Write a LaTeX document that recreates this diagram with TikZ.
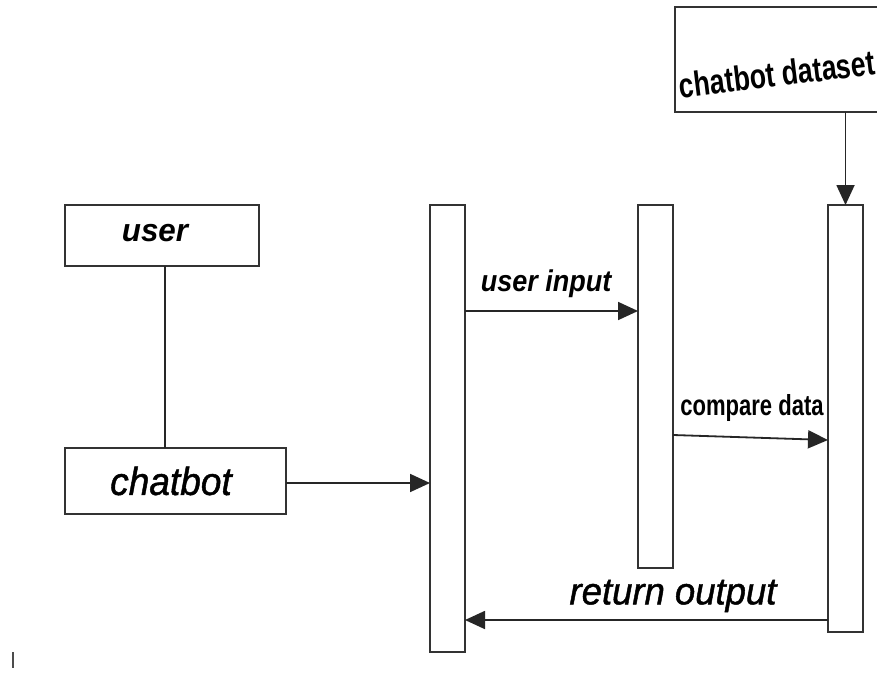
\documentclass[tikz,border=0pt]{standalone}
\usepackage{fontspec}
\setmainfont{Liberation Sans}
\newfontfamily\heavyfont[FakeBold=1.2]{Liberation Sans}
\usetikzlibrary{arrows.meta}
\begin{document}
\begin{tikzpicture}[x=1pt,y=-1pt,
  box/.style={draw=black!80, line width=1.8pt, inner sep=0pt, outer sep=0pt, anchor=north west},
  life/.style={box, minimum width=35pt},
  msg/.style={draw=black!85, line width=1.8pt, -{Triangle[length=20pt,width=18pt]}},
  lbl/.style={inner sep=0pt, font=\itshape}]
\clip (0,0) rectangle (877,674);
\fill[white] (0,0) rectangle (877,674);

% actors
\node[box, minimum width=194pt, minimum height=61pt] (user) at (65,205) {};
\node[lbl, font=\bfseries\itshape\fontsize{32}{36}\selectfont, xscale=0.98] at (155,233) {user};
\node[box, minimum width=221pt, minimum height=66pt] (bot) at (65,448) {};
\node[lbl, font=\heavyfont\itshape\fontsize{39}{43}\selectfont, xscale=0.95] at (171,481) {chatbot};

% data source
\node[box, minimum width=220pt, minimum height=105pt] (data) at (675,7) {};
\node[inner sep=0pt, rotate=7, font=\bfseries\fontsize{35}{39}\selectfont, xscale=0.76] at (777,74) {chatbot dataset};

% lifelines
\node[life, minimum height=447pt] (l1) at (430,205) {};
\node[life, minimum height=363pt] (l2) at (638,205) {};
\node[life, minimum height=427pt] (l3) at (828,205) {};

% connectors (shifts are in page units: negative = downwards)
\draw[draw=black!85, line width=1.8pt] (user.south -| 165,0) -- (bot.north -| 165,0);
\draw[msg] ([yshift=-35pt]bot.north east) -- ([yshift=-35pt]bot.north east -| l1.west);
\draw[msg] (data.south -| l3.north) -- (l3.north);
\draw[msg] ([yshift=-106pt]l1.north east) -- ([yshift=-106pt]l2.north west);
\draw[msg] ([yshift=-230pt]l2.north east) -- ([yshift=-235pt]l3.north west);
\draw[msg] ([yshift=-415pt]l3.north west) -- ([yshift=-415pt]l1.north east);

% message labels
\node[lbl, font=\bfseries\itshape\fontsize{30}{34}\selectfont, xscale=0.9] at (546,284) {user input};
\node[inner sep=0pt, font=\bfseries\fontsize{29}{33}\selectfont, xscale=0.76] at (752,408) {compare data};
\node[lbl, font=\heavyfont\itshape\fontsize{38}{42}\selectfont, xscale=0.96] at (673,596) {return output};

% stray mark
\draw[draw=black!70, line width=1.5pt] (13,652) -- (13,668);
\end{tikzpicture}
\end{document}
